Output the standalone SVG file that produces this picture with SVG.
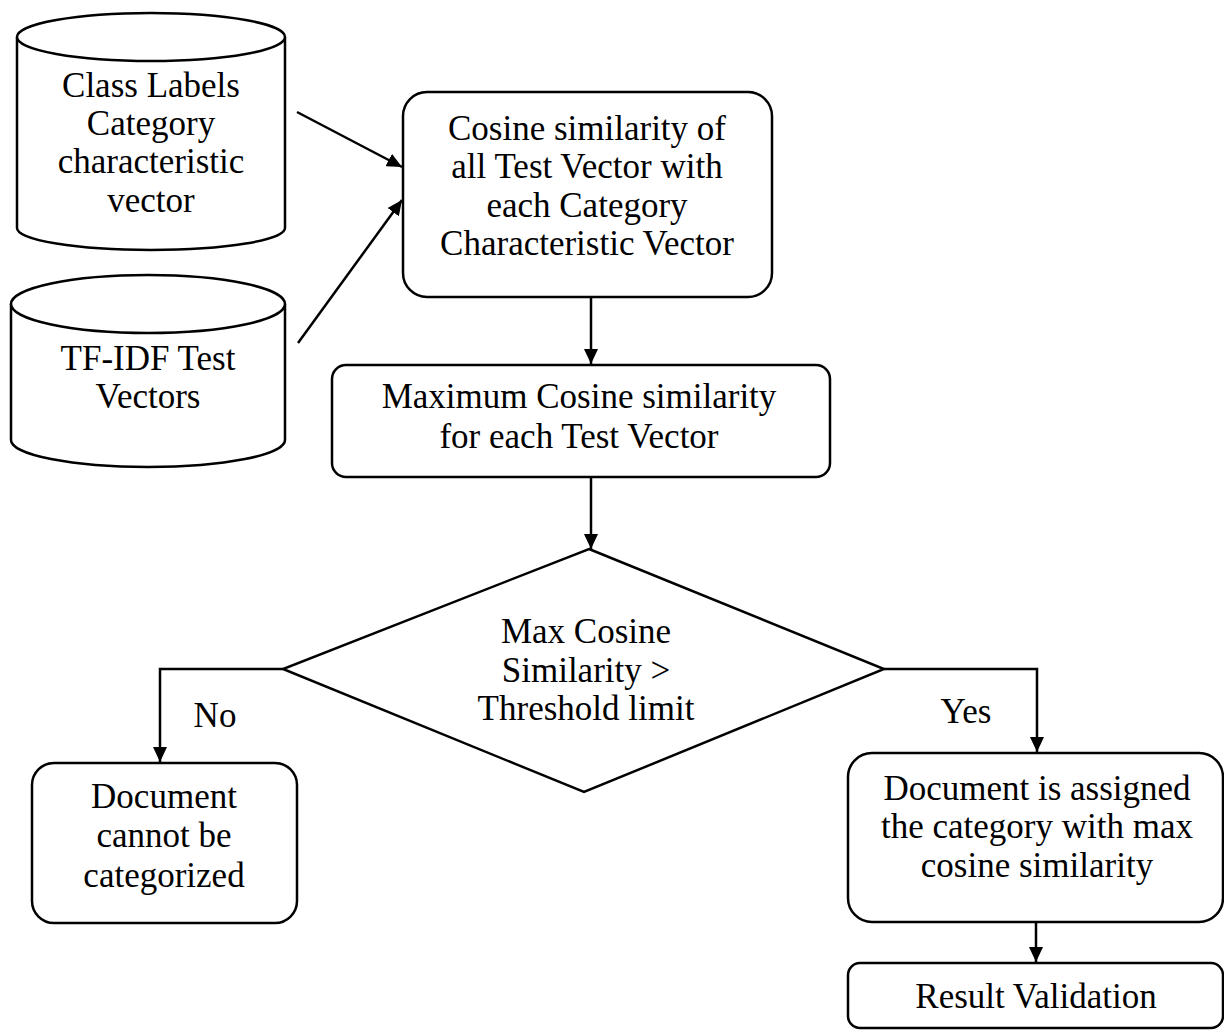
<svg xmlns="http://www.w3.org/2000/svg" width="1224" height="1030" viewBox="0 0 1224 1030">
<style>
.shape{fill:#fff;stroke:#000;stroke-width:2.5}
.line{fill:none;stroke:#000;stroke-width:2.5}
text{font-family:"Liberation Serif","Times New Roman",serif;font-size:35px;fill:#000;text-anchor:middle}
</style>
<defs>
<marker id="arr" markerUnits="userSpaceOnUse" markerWidth="16" markerHeight="14" refX="15" refY="7" orient="auto">
<path d="M0,0 L15,7 L0,14 z" fill="#000"/>
</marker>
</defs>
<rect width="1224" height="1030" fill="#fff"/>
<g id="cyl-class-labels">
<path class="shape" d="M17,37 V228 A134,22 0 0 0 285,228 V37"/>
<ellipse class="shape" cx="151" cy="37" rx="134" ry="24"/>
<text x="151" y="97">Class Labels</text>
<text x="151" y="135">Category</text>
<text x="151" y="173">characteristic</text>
<text x="151" y="212">vector</text>
</g>
<g id="cyl-tfidf">
<path class="shape" d="M11,304 V440 A137,27 0 0 0 285,440 V304"/>
<ellipse class="shape" cx="148" cy="304" rx="137" ry="29"/>
<text x="148" y="370">TF-IDF Test</text>
<text x="148" y="408">Vectors</text>
</g>
<g id="box-cosine">
<rect class="shape" x="403" y="92" width="369" height="205" rx="24"/>
<text x="587" y="140">Cosine similarity of</text>
<text x="587" y="178">all Test Vector with</text>
<text x="587" y="217">each Category</text>
<text x="587" y="255">Characteristic Vector</text>
</g>
<g id="box-max">
<rect class="shape" x="332" y="365" width="498" height="112" rx="14"/>
<text x="579" y="408">Maximum Cosine similarity</text>
<text x="579" y="448">for each Test Vector</text>
</g>
<g id="decision">
<polygon class="shape" points="589,549 884,669 584,792 283,669"/>
<text x="586" y="643">Max Cosine</text>
<text x="586" y="682">Similarity &gt;</text>
<text x="586" y="720">Threshold limit</text>
</g>
<g id="box-no">
<rect class="shape" x="32" y="763" width="265" height="160" rx="22"/>
<text x="164" y="808">Document</text>
<text x="164" y="847">cannot be</text>
<text x="164" y="887">categorized</text>
</g>
<g id="box-yes">
<rect class="shape" x="848" y="753" width="375" height="169" rx="24"/>
<text x="1037" y="800">Document is assigned</text>
<text x="1037" y="838">the category with max</text>
<text x="1037" y="877">cosine similarity</text>
</g>
<g id="box-result">
<rect class="shape" x="848" y="963" width="375" height="65" rx="12"/>
<text x="1036" y="1008">Result Validation</text>
</g>
<g id="connectors">
<line class="line" x1="297" y1="112" x2="402" y2="167" marker-end="url(#arr)"/>
<line class="line" x1="298" y1="343" x2="402" y2="200" marker-end="url(#arr)"/>
<line class="line" x1="591" y1="297" x2="591" y2="364" marker-end="url(#arr)"/>
<line class="line" x1="591" y1="477" x2="591" y2="549" marker-end="url(#arr)"/>
<path class="line" d="M283,669 H160 V762" marker-end="url(#arr)"/>
<path class="line" d="M884,669 H1037 V752" marker-end="url(#arr)"/>
<line class="line" x1="1036" y1="922" x2="1036" y2="962" marker-end="url(#arr)"/>
<text x="215" y="727">No</text>
<text x="966" y="723">Yes</text>
</g>
</svg>
